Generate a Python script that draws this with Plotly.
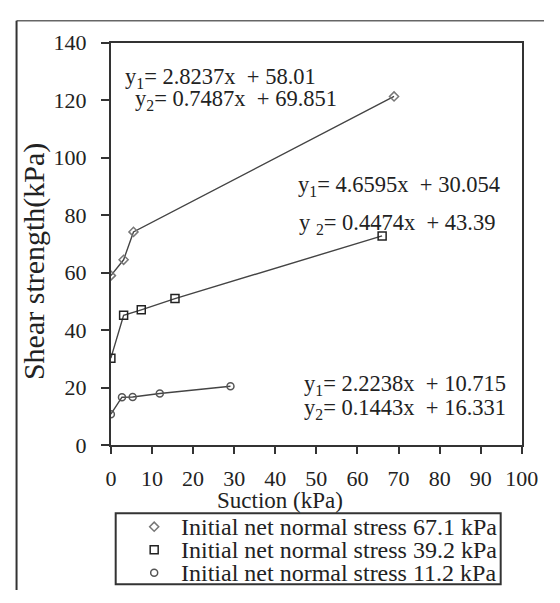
import plotly.graph_objects as go

# Measured shear strength vs. matric suction for three initial net normal stresses
suction_67 = [0, 3.1, 5.5, 68.9]
shear_67 = [59.0, 64.5, 74.2, 121.3]

suction_39 = [0, 3.1, 7.4, 15.6, 66.0]
shear_39 = [30.3, 45.2, 47.1, 51.0, 72.8]

suction_11 = [0, 2.7, 5.3, 11.9, 29.1]
shear_11 = [10.8, 16.7, 16.8, 18.0, 20.5]

series_names = [
    "Initial net normal stress 67.1 kPa",
    "Initial net normal stress 39.2 kPa",
    "Initial net normal stress 11.2 kPa",
]
symbols = ["diamond-open", "square-open", "circle-open"]
symbol_colors = ["#777777", "#222222", "#555555"]
symbol_sizes = [7, 8, 7]

x_ticks = list(range(0, 101, 10))
y_ticks = list(range(0, 141, 20))

# Bilinear fit equations (text, anchor in data units)
equations = [
    ("y<sub>1</sub>=\u00a02.8237x\u00a0\u00a0+\u00a058.01", 3.0, 127.8),
    ("y<sub>2</sub>=\u00a00.7487x\u00a0\u00a0+\u00a069.851", 5.4, 119.9),
    ("y<sub>1</sub>=\u00a04.6595x\u00a0\u00a0+\u00a030.054", 45.0, 90.2),
    ("y\u00a0<sub>2</sub>=\u00a00.4474x\u00a0\u00a0+\u00a043.39", 45.2, 76.9),
    ("y<sub>1</sub>=\u00a02.2238x\u00a0\u00a0+\u00a010.715", 46.4, 21.0),
    ("y<sub>2</sub>=\u00a00.1443x\u00a0\u00a0+\u00a016.331", 46.4, 12.7),
]

W, H = 560, 603
FONT = "Liberation Serif, Times New Roman, serif"
INK = "#222222"


def px(x):
    return x / W


def py(y):
    return 1 - y / H


fig = go.Figure()

data = [(suction_67, shear_67), (suction_39, shear_39), (suction_11, shear_11)]
for (xs, ys), sym, col, sz in zip(data, symbols, symbol_colors, symbol_sizes):
    fig.add_trace(go.Scatter(
        x=xs, y=ys, mode="lines+markers",
        line=dict(color="#444444", width=1.4),
        marker=dict(symbol=sym, size=sz, color=col, line=dict(width=1.5, color=col)),
        showlegend=False, xaxis="x", yaxis="y",
    ))

# Legend keys on a small overlay axis (one row per series)
for i, (sym, col, sz) in enumerate(zip(symbols, symbol_colors, symbol_sizes)):
    fig.add_trace(go.Scatter(
        x=[0], y=[i], mode="markers",
        marker=dict(symbol=sym, size=sz, color=col, line=dict(width=1.5, color=col)),
        showlegend=False, xaxis="x2", yaxis="y2", hoverinfo="skip",
    ))

annotations = []
for text, ax_x, ax_y in equations:
    annotations.append(dict(
        x=ax_x, y=ax_y, xref="x", yref="y", text=text, showarrow=False,
        xanchor="left", yanchor="middle",
        font=dict(family=FONT, size=22.5, color=INK),
    ))

# Axis titles
annotations.append(dict(
    x=px(30), y=py(260), xref="paper", yref="paper", text="Shear strength(kPa)",
    showarrow=False, textangle=-90, xanchor="center", yanchor="middle",
    font=dict(family=FONT, size=30, color=INK),
))
annotations.append(dict(
    x=px(286), y=py(510), xref="paper", yref="paper", text="Suction (kPa)",
    showarrow=False, xanchor="center", yanchor="middle",
    font=dict(family=FONT, size=23, color=INK),
))

# Legend labels
for i, name in enumerate(series_names):
    annotations.append(dict(
        x=px(181), y=py(537 + 24 * i), xref="paper", yref="paper", text=name,
        showarrow=False, xanchor="left", yanchor="middle",
        font=dict(family=FONT, size=24, color=INK),
    ))

shapes = [
    # outer frame
    dict(type="line", xref="paper", yref="paper", x0=px(12), y0=py(9), x1=1, y1=py(9),
         line=dict(color="#666666", width=1.5)),
    dict(type="line", xref="paper", yref="paper", x0=px(12), y0=py(9), x1=px(12), y1=0,
         line=dict(color="#333333", width=2)),
    # legend box
    dict(type="rect", xref="paper", yref="paper", x0=px(115), y0=py(597), x1=px(515), y1=py(523),
         line=dict(color="#333333", width=2), fillcolor="rgba(0,0,0,0)"),
]

fig.update_layout(
    width=W, height=H,
    margin=dict(l=0, r=0, t=0, b=0),
    paper_bgcolor="white", plot_bgcolor="white",
    showlegend=False,
    annotations=annotations,
    shapes=shapes,
    xaxis=dict(
        domain=[px(110), px(537)], range=[0, 100], tickvals=x_ticks,
        showgrid=False, zeroline=False, showline=True, mirror=True,
        linecolor="#333333", linewidth=2,
        ticks="outside", ticklen=7, tickwidth=1.5, tickcolor="#333333",
        ticklabelstandoff=5,
        tickfont=dict(family=FONT, size=22, color=INK),
    ),
    yaxis=dict(
        domain=[py(452), py(32)], range=[0, 140], tickvals=y_ticks,
        showgrid=False, zeroline=False, showline=True, mirror=True,
        linecolor="#333333", linewidth=2,
        ticks="outside", ticklen=8, tickwidth=1.5, tickcolor="#333333",
        ticklabelstandoff=10,
        tickfont=dict(family=FONT, size=22, color=INK),
    ),
    xaxis2=dict(domain=[px(145), px(165)], range=[-1, 1], visible=False, anchor="y2"),
    yaxis2=dict(domain=[py(597), py(525)], range=[2.5, -0.5], visible=False, anchor="x2"),
)

fig.write_html("out.html")
